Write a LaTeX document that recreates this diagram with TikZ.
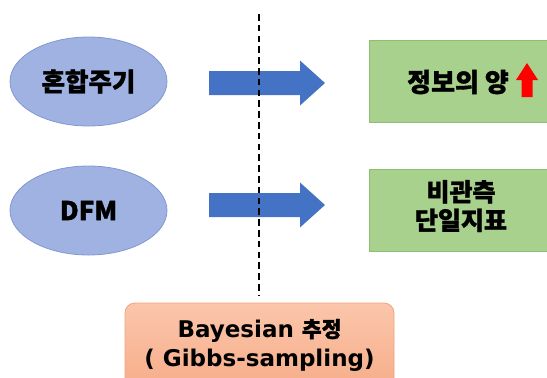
\documentclass[tikz,border=0pt]{standalone}
\usepackage{fontspec}
\setmainfont{Noto Sans CJK KR}[BoldFeatures={FakeBold=1.3}]
\newfontfamily\latinfont{DejaVu Sans}
\usetikzlibrary{shapes.geometric}
\definecolor{EllFill}{HTML}{A0B2E2}
\definecolor{EllLine}{HTML}{8198D0}
\definecolor{ArrBlue}{HTML}{4472C4}
\definecolor{BoxGreen}{HTML}{A9D18E}
\definecolor{BoxGreenLine}{HTML}{8DBE72}
\definecolor{BoxOrangeTop}{HTML}{FBC6AB}
\definecolor{BoxOrangeBot}{HTML}{F6AC88}
\definecolor{BoxOrangeLine}{HTML}{F2A27C}
\definecolor{UpRed}{HTML}{FF0000}

\begin{document}
\begin{tikzpicture}[x=1pt,y=-1pt,line join=round,font=\bfseries,
  modelell/.style={ellipse,fill=EllFill,draw=EllLine,line width=0.8pt,minimum width=157pt,minimum height=89pt,inner sep=0pt},
  resultbox/.style={rectangle,fill=BoxGreen,draw=BoxGreenLine,line width=0.8pt,minimum width=190pt,minimum height=82pt,inner sep=0pt,anchor=west},
  bayesbox/.style={rectangle,rounded corners=10pt,top color=BoxOrangeTop,bottom color=BoxOrangeBot,draw=BoxOrangeLine,line width=0.8pt,minimum width=269pt,minimum height=90pt,inner sep=0pt},
  boxtext/.style={align=center,inner sep=0pt}]
  \useasboundingbox (0,0) rectangle (547,378);
  \clip (0,0) rectangle (547,378);
  % models on the left
  \node[modelell,font=\bfseries\fontsize{25.5}{28}\selectfont] (mixed) at (88.5,81.5) {혼합주기};
  \node[modelell,font=\bfseries\fontsize{26}{28}\selectfont] (dfm) at (88.5,210.5) {DFM};
  % results on the right
  \node[resultbox] (info) at (369,81) {};
  \node[resultbox] (latent) at (369,210.5) {};
  \node[boxtext,font=\bfseries\fontsize{26}{28}\selectfont] (infotxt) at (458,82) {정보의 양};
  \node[boxtext,font=\bfseries\fontsize{25}{28.5}\selectfont] (latenttxt) at (461,206) {비관측\\단일지표};
  % red up arrow next to the text
  \fill[UpRed] (527,63) -- (538,80) -- (532.5,80) -- (532.5,97) -- (521.5,97) -- (521.5,80) -- (516,80) -- cycle;
  % block arrows
  \foreach \yy in {83,205}
    \fill[ArrBlue] (209,\yy-12) -- (300,\yy-12) -- (300,\yy-22.5) -- (325,\yy) -- (300,\yy+22.5) -- (300,\yy+12) -- (209,\yy+12) -- cycle;
  % estimation box and divider
  \node[bayesbox] (bayes) at (259.5,348) {};
  \node[boxtext,font=\bfseries\latinfont\fontsize{23}{29}\selectfont] (bayestxt) at (259.5,345)
    {Bayesian {\rmfamily\bfseries\fontsize{21.5}{29}\selectfont 추정}\\( Gibbs-sampling)};
  \coordinate (divtop) at (259,14);
  \draw[black,line width=2.5pt,dash pattern=on 6.5pt off 4.3pt,shorten >=7pt] (divtop) -- (divtop |- bayes.north);
\end{tikzpicture}
\end{document}
